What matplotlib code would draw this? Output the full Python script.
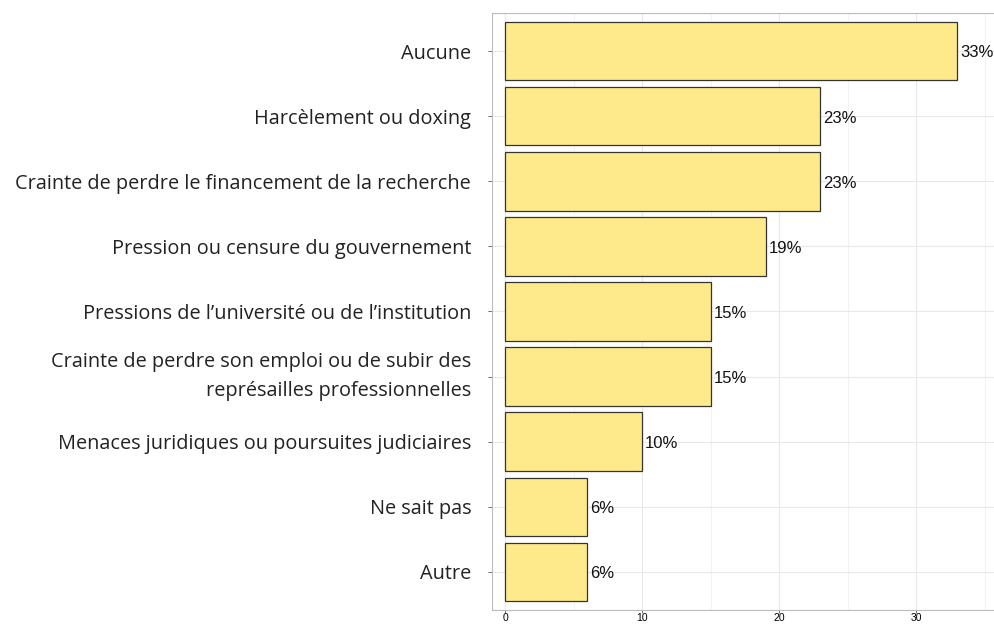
import matplotlib
matplotlib.use("Agg")
import matplotlib.pyplot as plt
from matplotlib.ticker import MultipleLocator

categories = ["Aucune", "Harcèlement ou doxing",
              "Crainte de perdre le financement de la recherche",
              "Pression ou censure du gouvernement",
              "Pressions de l’université ou de l’institution",
              "Crainte de perdre son emploi ou de subir des\nreprésailles professionnelles",
              "Menaces juridiques ou poursuites judiciaires",
              "Ne sait pas", "Autre"]
values = [33, 23, 23, 19, 15, 15, 10, 6, 6]
labels = ["33%", "23%", "23%", "19%", "15%", "15%", "10%", "6%", "6%"]
xticks = [0, 10, 20, 30]

fig = plt.figure(figsize=(9.95, 6.24), dpi=100)
ax = fig.add_axes([492/995, 1-610/624, (1000-492)/995, (610-13)/624])

n = len(categories)
ypos = list(range(n, 0, -1))
ax.barh(ypos, values, height=0.9, color="#FEEA8A", edgecolor="#333333", linewidth=0.9, zorder=3)
for y, v, l in zip(ypos, values, labels):
    ax.text(v + 0.2, y - 0.03, l, va="center", ha="left", fontsize=12,
            family="Liberation Sans", color="#111111", zorder=4)

ax.set_xlim(-0.95, 36.1)
ax.set_ylim(0.416, 9.584)
ax.set_yticks(ypos)
ax.set_yticklabels(categories, fontsize=14.3, family="Open Sans", color="#222222",
                   linespacing=1.65)
for t in ax.get_yticklabels():
    if "\n" in t.get_text():
        t.set_va("center")
ax.set_xticks(xticks)
ax.set_xticklabels([str(t) for t in xticks], fontsize=7.5, family="Liberation Sans")
ax.xaxis.set_minor_locator(MultipleLocator(5))
ax.grid(which="major", color="#E8E8E8", linewidth=0.8, zorder=0)
ax.grid(which="minor", axis="x", color="#F0F0F0", linewidth=0.6, zorder=0)
ax.tick_params(axis="y", length=3, color="#555555", pad=12, width=0.6)
ax.tick_params(axis="x", length=2, color="#555555", pad=0, width=0.6)
ax.tick_params(which="minor", length=0)
for s in ["left", "top", "bottom"]:
    ax.spines[s].set_color("#BBBBBB")
    ax.spines[s].set_linewidth(0.8)
ax.spines["right"].set_visible(False)

fig.savefig("out.png", dpi=100)
